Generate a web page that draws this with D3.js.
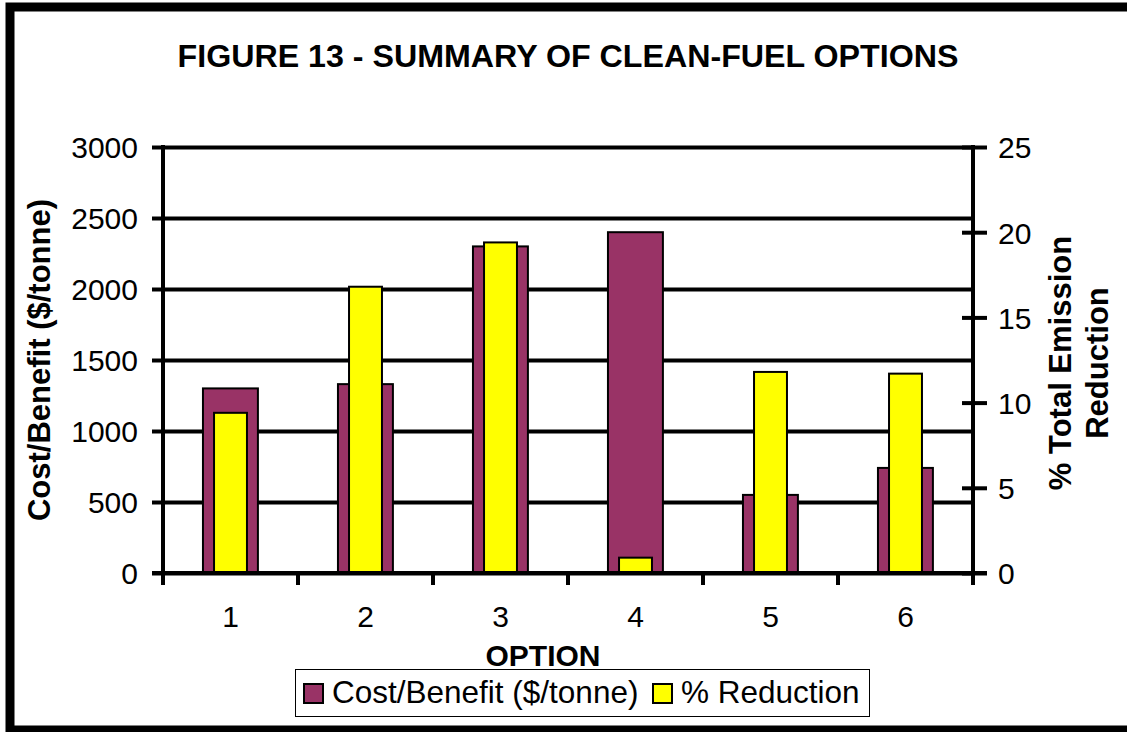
<!DOCTYPE html>
<html>
<head>
<meta charset="utf-8">
<script src="https://cdn.jsdelivr.net/npm/d3@7"></script>
<style>
  html, body { margin: 0; background: #fff; overflow: hidden; }
  svg { display: block; }
  svg text { font-family: "Liberation Sans", Arial, sans-serif; fill: #000; }
</style>
</head>
<body>
<div id="chart"></div>
<script>
// data
var options = ["1", "2", "3", "4", "5", "6"];
var costBenefit = [1300, 1330, 2300, 2400, 550, 740];   // $/tonne, left axis
var pctReduction = [9.4, 16.8, 19.4, 0.9, 11.8, 11.7];  // %, right axis
var leftTicks = [0, 500, 1000, 1500, 2000, 2500, 3000];
var rightTicks = [0, 5, 10, 15, 20, 25];

var W = 1127, H = 732;
var plot = {left: 163, right: 973, top: 147, bottom: 573};

var svg = d3.select("#chart").append("svg")
  .attr("width", W).attr("height", H);

// outer frame: left, top and bottom only (the right side is cut off in the scan)
svg.append("path")
  .attr("d", "M" + W + ",7H10V732M10,730H" + W)
  .attr("fill", "none").attr("stroke", "#000").attr("stroke-width", 9);

// title
svg.append("text")
  .attr("x", 568).attr("y", 67)
  .attr("text-anchor", "middle")
  .attr("font-size", "32.2px").attr("font-weight", "bold")
  .text("FIGURE 13 - SUMMARY OF CLEAN-FUEL OPTIONS");

// scales
var x = d3.scaleBand().domain(options).range([plot.left, plot.right]).padding(0);
var yL = d3.scaleLinear().domain([0, 3000]).range([plot.bottom, plot.top]);
var yR = d3.scaleLinear().domain([0, 25]).range([plot.bottom, plot.top]);

// gridlines
var grid = svg.append("g").attr("transform", "translate(" + plot.left + ",0)")
  .call(d3.axisLeft(yL).tickValues(leftTicks).tickSize(-(plot.right - plot.left)).tickFormat(""));
grid.select(".domain").remove();
grid.selectAll("line").attr("stroke", "#000").attr("stroke-width", 4);

// bars
var bw = x.bandwidth();
svg.append("g").selectAll("rect")
  .data(costBenefit)
  .enter()
  .append("rect")
  .attr("x", function(d, i) { return x(options[i]) + bw * 0.296; })
  .attr("y", function(d) { return yL(d); })
  .attr("width", bw * 0.407)
  .attr("height", function(d) { return yL(0) - yL(d); })
  .attr("fill", "#993366").attr("stroke", "#000").attr("stroke-width", 2);

svg.append("g").selectAll("rect")
  .data(pctReduction)
  .enter()
  .append("rect")
  .attr("x", function(d, i) { return x(options[i]) + bw * 0.378; })
  .attr("y", function(d) { return yR(d); })
  .attr("width", bw * 0.244)
  .attr("height", function(d) { return yR(0) - yR(d); })
  .attr("fill", "#ffff00").attr("stroke", "#000").attr("stroke-width", 2);

// left axis
var axL = svg.append("g").attr("transform", "translate(" + plot.left + ",0)")
  .call(d3.axisLeft(yL).tickValues(leftTicks).tickFormat(d3.format("d"))
    .tickSize(11).tickSizeOuter(0).tickPadding(14));
axL.select(".domain").attr("stroke", "#000").attr("stroke-width", 4)
  .attr("d", "M0," + (yL(3000) - 2) + "V" + (plot.bottom + 12));
axL.selectAll(".tick line").attr("stroke", "#000").attr("stroke-width", 4);
axL.selectAll("text").attr("font-size", "30px").attr("dy", "0.36em");

// right axis
var axR = svg.append("g").attr("transform", "translate(" + plot.right + ",0)")
  .call(d3.axisRight(yR).tickValues(rightTicks).tickSize(14).tickSizeOuter(0).tickPadding(11));
axR.select(".domain").attr("stroke", "#000").attr("stroke-width", 4)
  .attr("d", "M0," + (yR(25) - 2) + "V" + (plot.bottom + 12));
axR.selectAll(".tick line").attr("x1", -11).attr("stroke", "#000").attr("stroke-width", 4);
axR.selectAll("text").attr("font-size", "30px").attr("dy", "0.36em");

// bottom axis: line, boundary ticks, category labels
svg.append("line")
  .attr("x1", plot.left - 11).attr("x2", plot.right + 14)
  .attr("y1", plot.bottom).attr("y2", plot.bottom)
  .attr("stroke", "#000").attr("stroke-width", 4);

var bounds = options.map(function(d) { return x(d); }).concat([x(options[options.length - 1]) + bw]);
svg.append("g").selectAll("line")
  .data(bounds.slice(1, -1))
  .enter()
  .append("line")
  .attr("x1", function(d) { return d; }).attr("x2", function(d) { return d; })
  .attr("y1", plot.bottom).attr("y2", plot.bottom + 12)
  .attr("stroke", "#000").attr("stroke-width", 4);

var axB = svg.append("g").attr("transform", "translate(0," + plot.bottom + ")")
  .call(d3.axisBottom(x).tickSize(0));
axB.select(".domain").remove();
axB.selectAll("text").attr("font-size", "30px").attr("y", 54).attr("dy", 0);

// axis titles
svg.append("text")
  .attr("transform", "translate(50," + (plot.top + plot.bottom) / 2 + ") rotate(-90)")
  .attr("text-anchor", "middle")
  .attr("font-size", "31px").attr("font-weight", "bold")
  .text("Cost/Benefit ($/tonne)");

var rt = svg.append("text")
  .attr("transform", "translate(1071," + (plot.top + plot.bottom) / 2 + ") rotate(-90)")
  .attr("text-anchor", "middle")
  .attr("font-size", "31px").attr("font-weight", "bold");
rt.append("tspan").attr("x", -3).attr("y", 0).text("% Total Emission");
rt.append("tspan").attr("x", -3).attr("y", 37).text("Reduction");

svg.append("text")
  .attr("x", 543).attr("y", 666)
  .attr("text-anchor", "middle")
  .attr("font-size", "30px").attr("font-weight", "bold")
  .text("OPTION");

// legend
var series = ["Cost/Benefit ($/tonne)", "% Reduction"];
var colors = ["#993366", "#ffff00"];
var legendX = [303, 652];

svg.append("rect")
  .attr("x", 295.5).attr("y", 669.5).attr("width", 574).attr("height", 47)
  .attr("fill", "#fff").attr("stroke", "#000").attr("stroke-width", 1);

var lg = svg.append("g").selectAll("g")
  .data(series)
  .enter()
  .append("g")
  .attr("transform", function(d, i) { return "translate(" + legendX[i] + ",0)"; });
lg.append("rect")
  .attr("x", 1).attr("y", 684).attr("width", 19).attr("height", 19)
  .attr("fill", function(d, i) { return colors[i]; })
  .attr("stroke", "#000").attr("stroke-width", 2);
lg.append("text")
  .attr("x", 29).attr("y", 703)
  .attr("font-size", "31.5px")
  .text(function(d) { return d; });
</script>
</body>
</html>
